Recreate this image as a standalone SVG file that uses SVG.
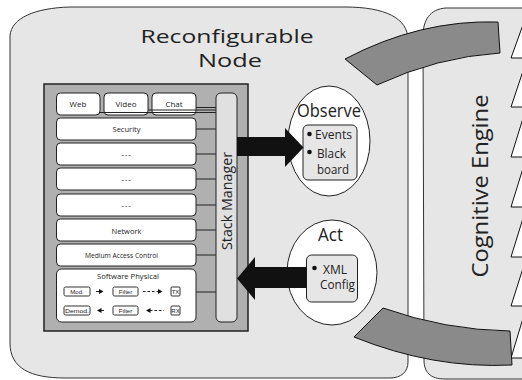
<svg xmlns="http://www.w3.org/2000/svg" width="522" height="380" viewBox="0 0 522 380">
<defs>
<style>
text{font-family:"Open Sans","Noto Sans",sans-serif;fill:#222}
.shell{fill:#e6e6e6;stroke:#333;stroke-width:1}
.layer{fill:#fff;stroke:#222;stroke-width:1}
.lbl{font-size:8px;text-anchor:middle}
.sm{font-family:"Liberation Sans",Arial,sans-serif;font-size:6px;text-anchor:middle}
.smbox{fill:#fff;stroke:#333;stroke-width:1}
.wire{stroke:#222;stroke-width:1;fill:none}
.band{fill:#8a8a8a;stroke:#111;stroke-width:1}
.big{fill:#111;stroke:none}
.tri{fill:#fff;stroke:#111;stroke-width:1}
</style>
</defs>
<rect width="522" height="380" fill="#fff"/>

<g id="cognitive-engine">
<path class="shell" d="M423,36 C423,20 430,9 446,8 L530,8 L530,379 L445,379 C430,379 424,372 424,360 Z"/>
<polygon class="tri" points="524,22 511,58 524,58"/>
<polygon class="tri" points="524,68 511,107 524,107"/>
<polygon class="tri" points="524,115 511,157 524,157"/>
<polygon class="tri" points="524,165 511,207 524,207"/>
<polygon class="tri" points="524,215 511,257 524,257"/>
<polygon class="tri" points="524,265 511,306 524,306"/>
<polygon class="tri" points="524,315 511,358 524,358"/>
<text transform="translate(488,186) rotate(-90)" text-anchor="middle" font-size="22" textLength="183" lengthAdjust="spacingAndGlyphs">Cognitive Engine</text>
</g>

<g id="reconfigurable-node">
<path class="shell" d="M10,36 C11,18 35,8 70,7 L345,7 C385,7 408,18 408,40 L408,362 C408,372 401,378 390,378 L65,378 C30,378 10,368 10,343 Z"/>
<text x="227" y="43" text-anchor="middle" font-size="17.5" textLength="173" lengthAdjust="spacingAndGlyphs">Reconfigurable</text>
<text x="230" y="67" text-anchor="middle" font-size="17.5" textLength="64" lengthAdjust="spacingAndGlyphs">Node</text>
</g>

<g id="protocol-stack">
<rect x="44" y="84" width="204" height="247" fill="#b0b0b0" stroke="#222" stroke-width="1.5"/>
</g>

<g id="stack-manager">
<rect x="216" y="93" width="21" height="229" rx="5" fill="#e0e0e0" stroke="#222" stroke-width="1"/>
<text transform="translate(231.5,201) rotate(-90)" text-anchor="middle" font-size="14" textLength="98" lengthAdjust="spacingAndGlyphs">Stack Manager</text>
</g>

<g id="web"><rect class="layer" x="56.5" y="93" width="43.5" height="22" rx="4"/><text class="lbl" x="78" y="107">Web</text></g>
<g id="video"><rect class="layer" x="104" y="93" width="44" height="22" rx="4"/><text class="lbl" x="126" y="107">Video</text></g>
<g id="chat"><rect class="layer" x="152" y="93" width="44" height="22" rx="4"/><text class="lbl" x="174" y="107">Chat</text></g>
<g id="security"><rect class="layer" x="56.5" y="118" width="139.5" height="22" rx="4"/><text class="lbl" x="126.5" y="132" textLength="28" lengthAdjust="spacingAndGlyphs">Security</text></g>
<g id="layer-a"><rect class="layer" x="56.5" y="143" width="139.5" height="22" rx="4"/><text class="lbl" x="126.5" y="157" letter-spacing="1">---</text></g>
<g id="layer-b"><rect class="layer" x="56.5" y="168" width="139.5" height="22" rx="4"/><text class="lbl" x="126.5" y="182" letter-spacing="1">---</text></g>
<g id="layer-c"><rect class="layer" x="56.5" y="194" width="139.5" height="22" rx="4"/><text class="lbl" x="126.5" y="208" letter-spacing="1">---</text></g>
<g id="network"><rect class="layer" x="56.5" y="219" width="139.5" height="22" rx="4"/><text class="lbl" x="126.5" y="234" textLength="30" lengthAdjust="spacingAndGlyphs">Network</text></g>
<g id="mac"><rect class="layer" x="56.5" y="244" width="139.5" height="22" rx="4"/><text class="lbl" x="121.5" y="258" textLength="73" lengthAdjust="spacingAndGlyphs">Medium Access Control</text></g>
<g id="software-physical">
<rect class="layer" x="56.5" y="269" width="139.5" height="53" rx="5"/>
<text class="lbl" x="128" y="279" textLength="62" lengthAdjust="spacingAndGlyphs">Software Physical</text>
<rect class="smbox" x="64" y="287" width="26" height="9" rx="1.5"/><text class="sm" x="77" y="294">Mod.</text>
<rect class="smbox" x="113" y="287" width="25" height="9" rx="1.5"/><text class="sm" x="125.5" y="294">Filter</text>
<rect class="smbox" x="171" y="287" width="9" height="9" rx="1"/><text class="sm" x="175.5" y="294" font-size="5">TX</text>
<rect class="smbox" x="64" y="306" width="26" height="9" rx="1.5"/><text class="sm" x="77" y="313" textLength="24" lengthAdjust="spacingAndGlyphs">Demod.</text>
<rect class="smbox" x="113" y="306" width="25" height="9" rx="1.5"/><text class="sm" x="125.5" y="313">Filter</text>
<rect class="smbox" x="171" y="306" width="9" height="9" rx="1"/><text class="sm" x="175.5" y="313" font-size="5">RX</text>
<line class="wire" x1="96" y1="291.5" x2="100" y2="291.5" stroke-width="1.5"/>
<polygon class="big" points="99,289 103.5,291.5 99,294"/>
<line class="wire" x1="143" y1="291.5" x2="158.5" y2="291.5" stroke-dasharray="2.5,2"/>
<polygon class="big" points="158,289 162.5,291.5 158,294"/>
<polygon class="big" points="97,310.5 101.5,308 101.5,313"/>
<line class="wire" x1="101" y1="310.5" x2="104" y2="310.5" stroke-width="1.5"/>
<polygon class="big" points="146,310.5 150.5,308 150.5,313"/>
<line class="wire" x1="150" y1="310.5" x2="164" y2="310.5" stroke-dasharray="2.5,2"/>
</g>

<g id="observe">
<ellipse cx="329" cy="141" rx="41" ry="55" fill="#fff" stroke="#222" stroke-width="1"/>
<text x="329" y="117" text-anchor="middle" font-size="18" textLength="64" lengthAdjust="spacingAndGlyphs">Observe</text>
<rect x="303" y="125" width="54" height="55" rx="5" fill="#e6e6e6" stroke="#222" stroke-width="1"/>
<circle cx="309.5" cy="134" r="2.3" fill="#111"/>
<circle cx="309.5" cy="152" r="2.3" fill="#111"/>
<text x="315" y="139" font-size="12" textLength="37" lengthAdjust="spacingAndGlyphs">Events</text>
<text x="317" y="157.5" font-size="12" textLength="29" lengthAdjust="spacingAndGlyphs">Black</text>
<text x="317" y="173.5" font-size="12" textLength="32" lengthAdjust="spacingAndGlyphs">board</text>
</g>

<g id="act">
<ellipse cx="332" cy="272.5" rx="45" ry="52.5" fill="#fff" stroke="#222" stroke-width="1"/>
<text x="330.5" y="241" text-anchor="middle" font-size="18" textLength="25" lengthAdjust="spacingAndGlyphs">Act</text>
<rect x="306.5" y="255" width="51" height="47" rx="5" fill="#e6e6e6" stroke="#222" stroke-width="1"/>
<circle cx="314.5" cy="268" r="2.3" fill="#111"/>
<text x="323" y="273.5" font-size="12" textLength="24" lengthAdjust="spacingAndGlyphs">XML</text>
<text x="320" y="289" font-size="12" textLength="35" lengthAdjust="spacingAndGlyphs">Config</text>
</g>

<g id="connectors">
<line class="wire" x1="100" y1="112.5" x2="216" y2="112.5"/>
<line class="wire" x1="148" y1="110" x2="216" y2="110"/>
<line class="wire" x1="196" y1="107.5" x2="216" y2="107.5"/>
<line class="wire" x1="196" y1="129" x2="216" y2="129"/>
<line class="wire" x1="196" y1="154" x2="216" y2="154"/>
<line class="wire" x1="196" y1="179" x2="216" y2="179"/>
<line class="wire" x1="196" y1="205" x2="216" y2="205"/>
<line class="wire" x1="196" y1="230" x2="216" y2="230"/>
<line class="wire" x1="196" y1="255" x2="216" y2="255"/>
<line class="wire" x1="196" y1="292" x2="216" y2="292"/>
<polygon class="big" points="237,137 285,137 285,128 303.5,147.5 285,167 285,156 237,156"/>
<polygon class="big" points="306.5,267 255,267 255,257 237,278.5 255,300 255,288 306.5,288"/>
<path class="band" d="M345,59 Q420,19.5 498,22 L500,53 Q437,57 377,85 Z"/>
<path class="band" d="M383,308 Q445,330 510,331 L512,365 Q433,369 354,337 Z"/>
</g>
</svg>
